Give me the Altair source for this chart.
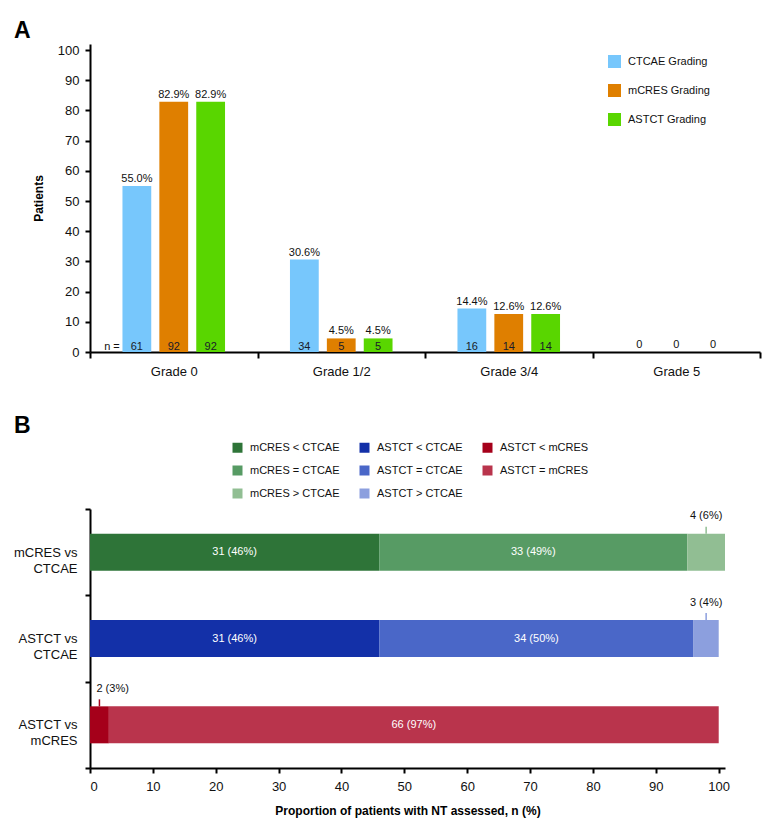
import altair as alt
import pandas as pd

FONT = "Liberation Sans, Arial, Helvetica, sans-serif"

# ---------------- Panel A data ----------------
grades = ["Grade 0", "Grade 1/2", "Grade 3/4", "Grade 5"]
systems = ["CTCAE Grading", "mCRES Grading", "ASTCT Grading"]
ctcae_pct = [55.0, 30.6, 14.4, 0.0]
mcres_pct = [82.9, 4.5, 12.6, 0.0]
astct_pct = [82.9, 4.5, 12.6, 0.0]
ctcae_n = [61, 34, 16, 0]
mcres_n = [92, 5, 14, 0]
astct_n = [92, 5, 14, 0]
system_colors = ["#77C7FC", "#DF7F00", "#59D600"]

# ---------------- Panel B data ----------------
rows_b = ["mCRES vs CTCAE", "ASTCT vs CTCAE", "ASTCT vs mCRES"]
seg_mc = ["mCRES < CTCAE", "mCRES = CTCAE", "mCRES > CTCAE"]
n_mc = [31, 33, 4]
p_mc = [46, 49, 6]
seg_ac = ["ASTCT < CTCAE", "ASTCT = CTCAE", "ASTCT > CTCAE"]
n_ac = [31, 34, 3]
p_ac = [46, 50, 4]
seg_am = ["ASTCT < mCRES", "ASTCT = mCRES"]
n_am = [2, 66]
p_am = [3, 97]
legend_order_b = seg_mc + seg_ac + seg_am
colors_b = ["#2E7438", "#579B64", "#91BE93",
            "#1330A8", "#4A67C8", "#8C9FDE",
            "#A5001A", "#B9344C"]

# ---------------- Build tables ----------------
pct_by_sys = [ctcae_pct, mcres_pct, astct_pct]
n_by_sys = [ctcae_n, mcres_n, astct_n]
recs_a = []
for gi, g in enumerate(grades):
    for si, s in enumerate(systems):
        p = pct_by_sys[si][gi]
        n = n_by_sys[si][gi]
        recs_a.append({"grade": g, "system": s, "pct": p, "n": n,
                       "pct_label": (f"{p:.1f}%" if n > 0 else "0")})
df_a = pd.DataFrame(recs_a)

recs_b = []
for row, segs, ns, ps in zip(rows_b, [seg_mc, seg_ac, seg_am], [n_mc, n_ac, n_am], [p_mc, p_ac, p_am]):
    start = 0
    for sg, n, p in zip(segs, ns, ps):
        recs_b.append({"row": row, "seg": sg, "n": n, "pct": p,
                       "start": start, "end": start + p, "mid": start + p / 2,
                       "label": f"{n} ({p}%)"})
        start += p
df_b = pd.DataFrame(recs_b)

# ---------------- Panel A ----------------
x_a = alt.X("grade:N", sort=grades, title=None,
            scale=alt.Scale(paddingInner=0, paddingOuter=0),
            axis=alt.Axis(tickBand="extent", labelAngle=0, labelPadding=7,
                          tickSize=6, labelFontSize=13))
xo_a = alt.XOffset("system:N", sort=systems,
                   scale=alt.Scale(paddingInner=0.22, paddingOuter=0.88))
color_a = alt.Color("system:N", sort=systems,
                    scale=alt.Scale(domain=systems, range=system_colors),
                    legend=alt.Legend(title=None, orient="none", legendX=518, legendY=11,
                                      symbolType="square", symbolSize=169, symbolStrokeWidth=0,
                                      labelFontSize=11, labelOffset=7, rowPadding=16,
                                      labelFont=FONT, labelColor="#111"))
y_a = alt.Y("pct:Q", scale=alt.Scale(domain=[0, 102], nice=False, zero=True),
            axis=alt.Axis(values=list(range(0, 101, 10)), title="Patients", labelOverlap=False,
                          titleFont=FONT, titleFontSize=12, titleFontWeight="bold",
                          titlePadding=12, labelFontSize=13, labelPadding=6, tickSize=5))
y_zero = alt.YDatum(0, scale=alt.Scale(domain=[0, 102], nice=False, zero=True),
                    axis=alt.Axis(values=list(range(0, 101, 10)), title="Patients", labelOverlap=False,
                                  titleFont=FONT, titleFontSize=12, titleFontWeight="bold",
                                  titlePadding=12, labelFontSize=13, labelPadding=6, tickSize=5))

base_a = alt.Chart(df_a).encode(x=x_a, xOffset=xo_a)
bars_a = base_a.mark_bar().encode(y=y_a, color=color_a)
pct_text = base_a.mark_text(baseline="alphabetic", dy=-4, fontSize=11, font=FONT, color="#111").encode(
    y=y_a, text="pct_label:N")
n_text = base_a.transform_filter("datum.n > 0").mark_text(
    baseline="alphabetic", dy=-2, fontSize=11, font=FONT, color="#1a1a2a").encode(
    y=y_zero, text="n:N")
n_eq = alt.Chart(pd.DataFrame({"grade": ["Grade 0"], "label": ["n ="]})).mark_text(
    align="right", baseline="alphabetic", dx=-54, dy=-2, fontSize=11, font=FONT, color="#111").encode(
    x=x_a, y=y_zero, text="label:N")

panel_a = alt.layer(bars_a, pct_text, n_text, n_eq).properties(
    width=670, height=308,
    title=alt.TitleParams("A", anchor="start", frame="group", dx=-76, offset=1,
                          fontSize=23, fontWeight="bold", font=FONT, color="#000"))

# ---------------- Panel B ----------------
y_b = alt.Y("row:N", sort=rows_b, title=None,
            scale=alt.Scale(paddingInner=0, paddingOuter=0),
            axis=alt.Axis(tickBand="extent", labelFontSize=13, labelPadding=8, tickSize=5,
                          labelLineHeight=16,
                          labelExpr="datum.label ? [split(datum.label, ' vs ')[0] + ' vs', split(datum.label, ' vs ')[1]] : ''"))
x_axis_b = alt.Axis(values=list(range(0, 101, 10)), labelOverlap=False,
                    title="Proportion of patients with NT assessed, n (%)",
                    titleFont=FONT, titleFontSize=12, titleFontWeight="bold",
                    titlePadding=12, labelFontSize=13, labelPadding=7, tickSize=5)
x_scale_b = alt.Scale(domain=[0, 101], nice=False)
x_b = alt.X("start:Q", scale=x_scale_b, axis=x_axis_b)
x_mid = alt.X("mid:Q", scale=x_scale_b, axis=x_axis_b)
color_b = alt.Color("seg:N", scale=alt.Scale(domain=legend_order_b, range=colors_b),
                    legend=alt.Legend(title=None, orient="none", legendX=142, legendY=-67,
                                      columns=3, symbolType="square", symbolSize=100,
                                      symbolStrokeWidth=0, symbolOpacity=1,
                                      labelFontSize=11, labelOffset=7,
                                      rowPadding=11, columnPadding=19,
                                      labelFont=FONT, labelColor="#111"))

bars_b = alt.Chart(df_b).mark_bar(size=37).encode(y=y_b, x=x_b, x2="end:Q", color=color_b)
in_text = alt.Chart(df_b).transform_filter("datum.pct >= 10").mark_text(
    fontSize=11, font=FONT, color="white").encode(
    y=y_b, x=x_mid, text="label:N")
out_tick = alt.Chart(df_b).transform_filter("datum.pct < 10").mark_tick(
    size=7, thickness=1.5, yOffset=-22, opacity=1).encode(
    y=y_b, x=x_mid, color=color_b)
out_text_c = alt.Chart(df_b).transform_filter("datum.pct < 10 && datum.start > 0").mark_text(
    fontSize=11, font=FONT, color="#111", baseline="middle", dy=-36).encode(
    y=y_b, x=x_mid, text="label:N")
out_text_l = alt.Chart(df_b).transform_filter("datum.pct < 10 && datum.start == 0").mark_text(
    fontSize=11, font=FONT, color="#111", baseline="middle", align="left", dx=-3, dy=-36).encode(
    y=y_b, x=x_mid, text="label:N")

panel_b = alt.layer(bars_b, in_text, out_tick, out_text_c, out_text_l).properties(
    width=635, height=259,
    title=alt.TitleParams("B", anchor="start", frame="group", dx=-76, offset=4,
                          fontSize=23, fontWeight="bold", font=FONT, color="#000"))

chart = alt.vconcat(panel_a, panel_b, spacing=37).resolve_scale(
    color="independent"
).resolve_legend(color="independent").properties(
    padding={"left": 5, "top": 12, "right": 5, "bottom": 5},
    background="white"
).configure_view(stroke=None).configure_axis(
    domainColor="#000", domainWidth=2, tickColor="#000", tickWidth=2,
    labelColor="#111", labelFont=FONT, titleColor="#000", grid=False
)

chart.save("out.html", embed_options={"renderer": "svg", "actions": False})
